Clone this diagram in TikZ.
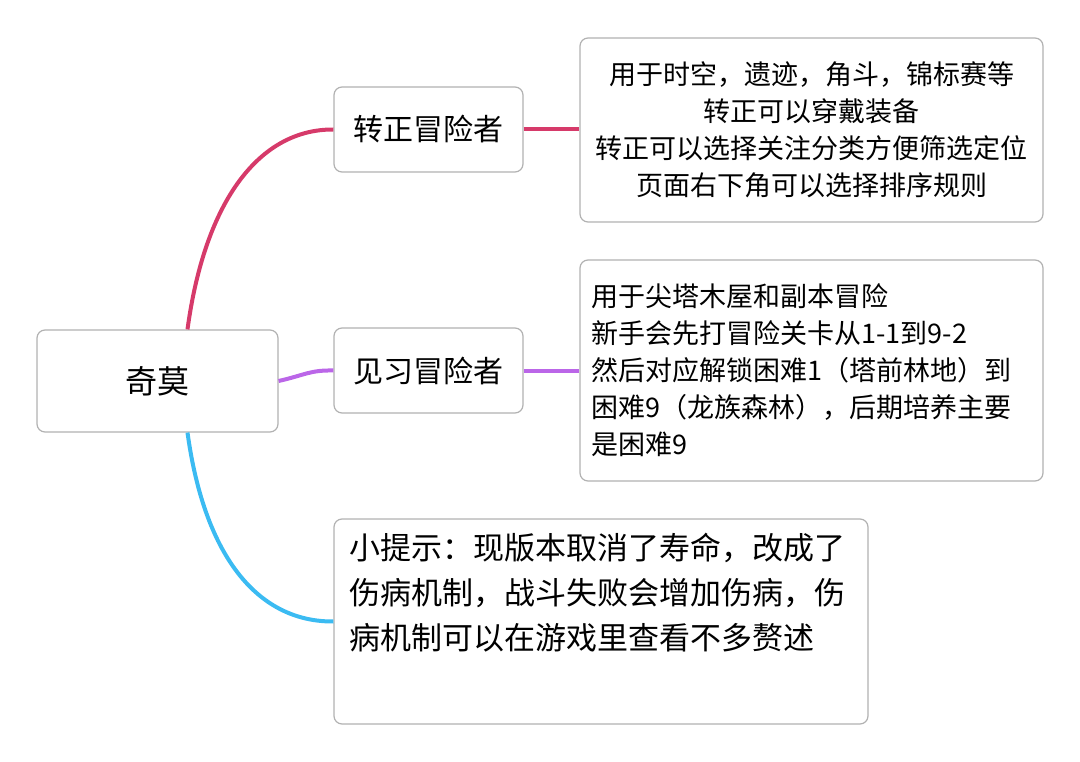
\documentclass[tikz,border=0pt]{standalone}
\usepackage{fontspec}
\setmainfont{Noto Sans CJK SC}
\definecolor{zhred}{HTML}{D63A6A}
\definecolor{jxpurple}{HTML}{BB66E8}
\definecolor{tipblue}{HTML}{3BBBF2}
\begin{document}
\begin{tikzpicture}[x=1pt,y=-1pt,
    box/.style={draw=black!30,line width=1.2pt,rounded corners=8pt,fill=white,inner sep=6pt},
    branch/.style={line width=4pt}]
        \useasboundingbox (0,0) rectangle (1080,762);
        % nodes
        \node[box,minimum width=241pt,minimum height=102pt,font=\fontsize{32}{38}\selectfont] (root) at (157.5,381) {奇莫};
        \node[box,minimum width=189pt,minimum height=85pt,font=\fontsize{30}{36}\selectfont] (zz) at (428.5,129.5) {转正冒险者};
        \node[box,minimum width=189pt,minimum height=85pt,font=\fontsize{30}{36}\selectfont] (jx) at (428.5,370.5) {见习冒险者};
        \node[box,minimum width=463pt,minimum height=184pt,align=center,font=\fontsize{27}{37}\selectfont] (zzinfo) at (811.5,130)
            {用于时空，遗迹，角斗，锦标赛等\\转正可以穿戴装备\\转正可以选择关注分类方便筛选定位\\页面右下角可以选择排序规则};
        \node[box,minimum width=463pt,minimum height=221pt,text width=440pt,align=left,font=\fontsize{27}{37}\selectfont] (jxinfo) at (811.5,370.5)
            {用于尖塔木屋和副本冒险\\新手会先打冒险关卡从1-1到9-2\\然后对应解锁困难1（塔前林地）到\\困难9（龙族森林），后期培养主要\\是困难9};
        \node[box,minimum width=534pt,minimum height=205pt] (tip) at (601,621.5) {};
        \node[anchor=north west,text width=520pt,align=left,inner sep=0pt,font=\fontsize{31}{45}\selectfont] (tiptext) at (349,533)
            {小提示：现版本取消了寿命，改成了\\伤病机制，战斗失败会增加伤病，伤\\病机制可以在游戏里查看不多赘述};
        % connectors
        \draw[branch,zhred] ([xshift=30pt]root.north) .. controls (205,200) and (260,129) .. (zz.west);
        \draw[branch,zhred] (zz.east) -- (zzinfo.west |- zz.east);
        \draw[branch,jxpurple] (root.east) .. controls (305,375) and (310,370) .. (jx.west);
        \draw[branch,jxpurple] (jx.east) -- (jxinfo.west |- jx.east);
        \draw[branch,tipblue] ([xshift=30pt]root.south) .. controls (205,560) and (260,622) .. (tip.west);
\end{tikzpicture}
\end{document}
